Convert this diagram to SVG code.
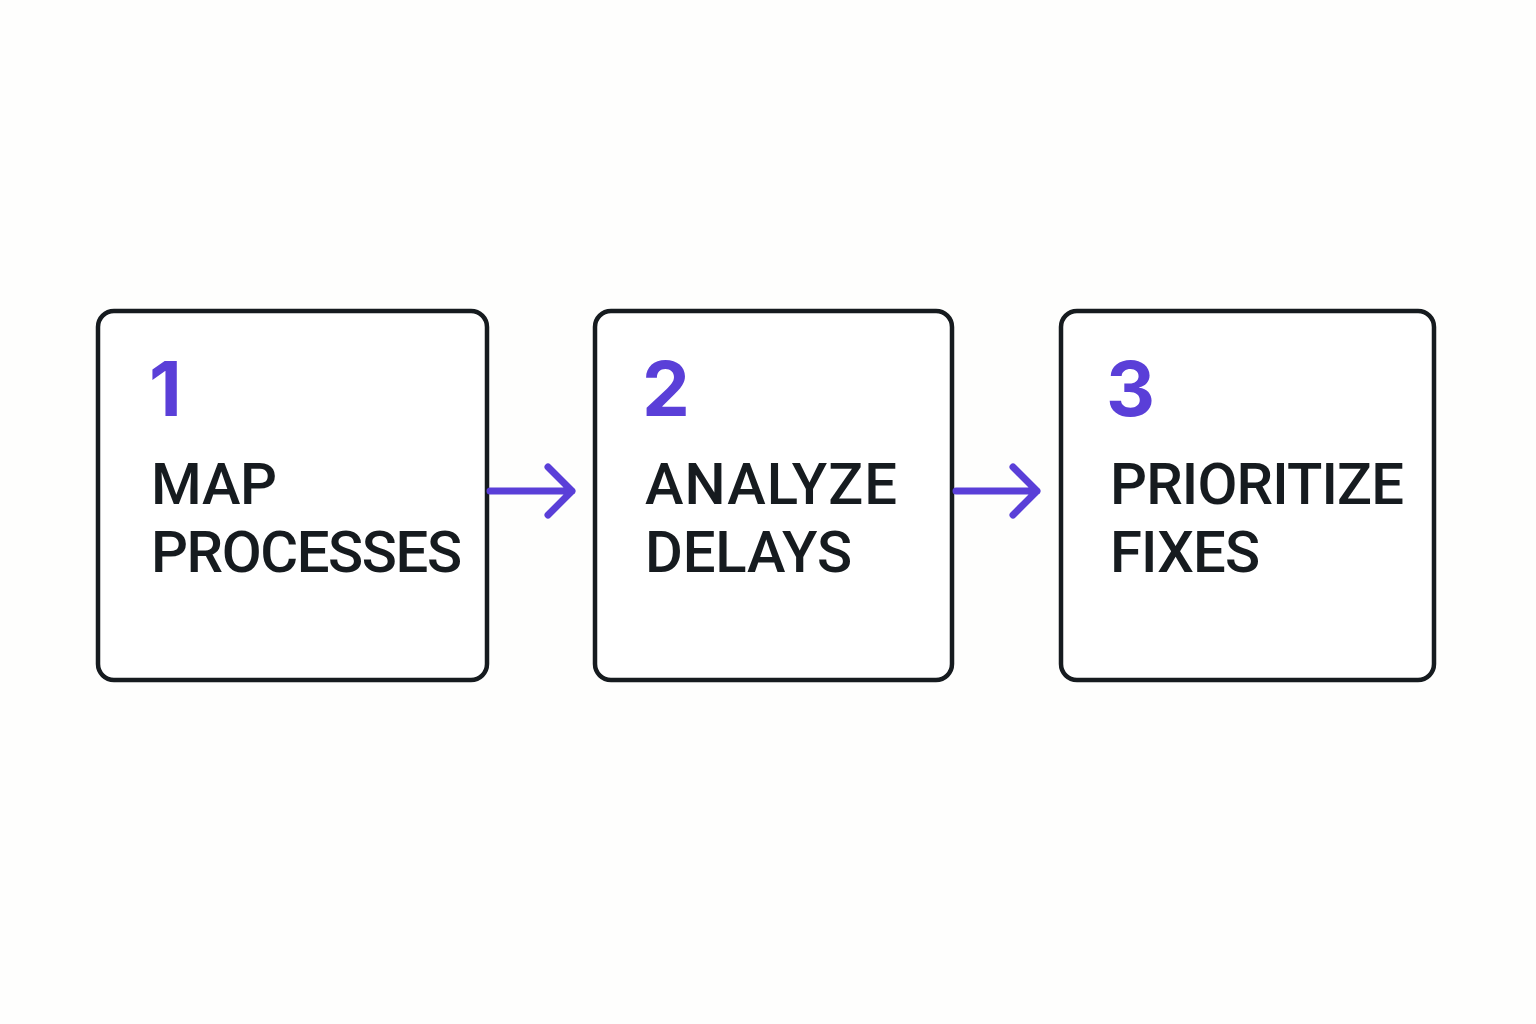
<svg xmlns="http://www.w3.org/2000/svg" width="1536" height="1024" viewBox="0 0 1536 1024">
<style>
.box{fill:#ffffff;stroke:#161b1f;stroke-width:4.5}
.num{font-family:Inter,"Liberation Sans",sans-serif;font-weight:700;font-size:76px;fill:#5a3fd8}
.lbl{font-family:Roboto,Inter,"Liberation Sans",sans-serif;font-weight:500;font-size:58px;fill:#161b1f}
.arr{fill:none;stroke:#5a3fd8;stroke-width:7;stroke-linecap:round;stroke-linejoin:round}
</style>
<rect width="1536" height="1024" fill="#fefefd"/>
<g id="node1">
<rect class="box" x="98" y="311" width="389" height="369" rx="16"/>
<text class="num" x="149" y="416">1</text>
<text class="lbl" x="151" y="504" textLength="126" lengthAdjust="spacing">MAP</text>
<text class="lbl" x="151" y="572" textLength="311" lengthAdjust="spacing">PROCESSES</text>
</g>
<g id="node2">
<rect class="box" x="595" y="311" width="357" height="369" rx="16"/>
<text class="num" x="642" y="416">2</text>
<text class="lbl" x="645" y="504" textLength="252" lengthAdjust="spacing">ANALYZE</text>
<text class="lbl" x="645" y="572" textLength="207" lengthAdjust="spacing">DELAYS</text>
</g>
<g id="node3">
<rect class="box" x="1061" y="311" width="373" height="369" rx="16"/>
<text class="num" x="1106" y="416">3</text>
<text class="lbl" x="1110" y="504" textLength="294" lengthAdjust="spacing">PRIORITIZE</text>
<text class="lbl" x="1110" y="572" textLength="150" lengthAdjust="spacing">FIXES</text>
</g>
<g id="connectors">
<path class="arr" d="M490 491 H572 M548 467 L572 491 L548 515"/>
<path class="arr" d="M956 491 H1037 M1013 467 L1037 491 L1013 515"/>
</g>
</svg>
